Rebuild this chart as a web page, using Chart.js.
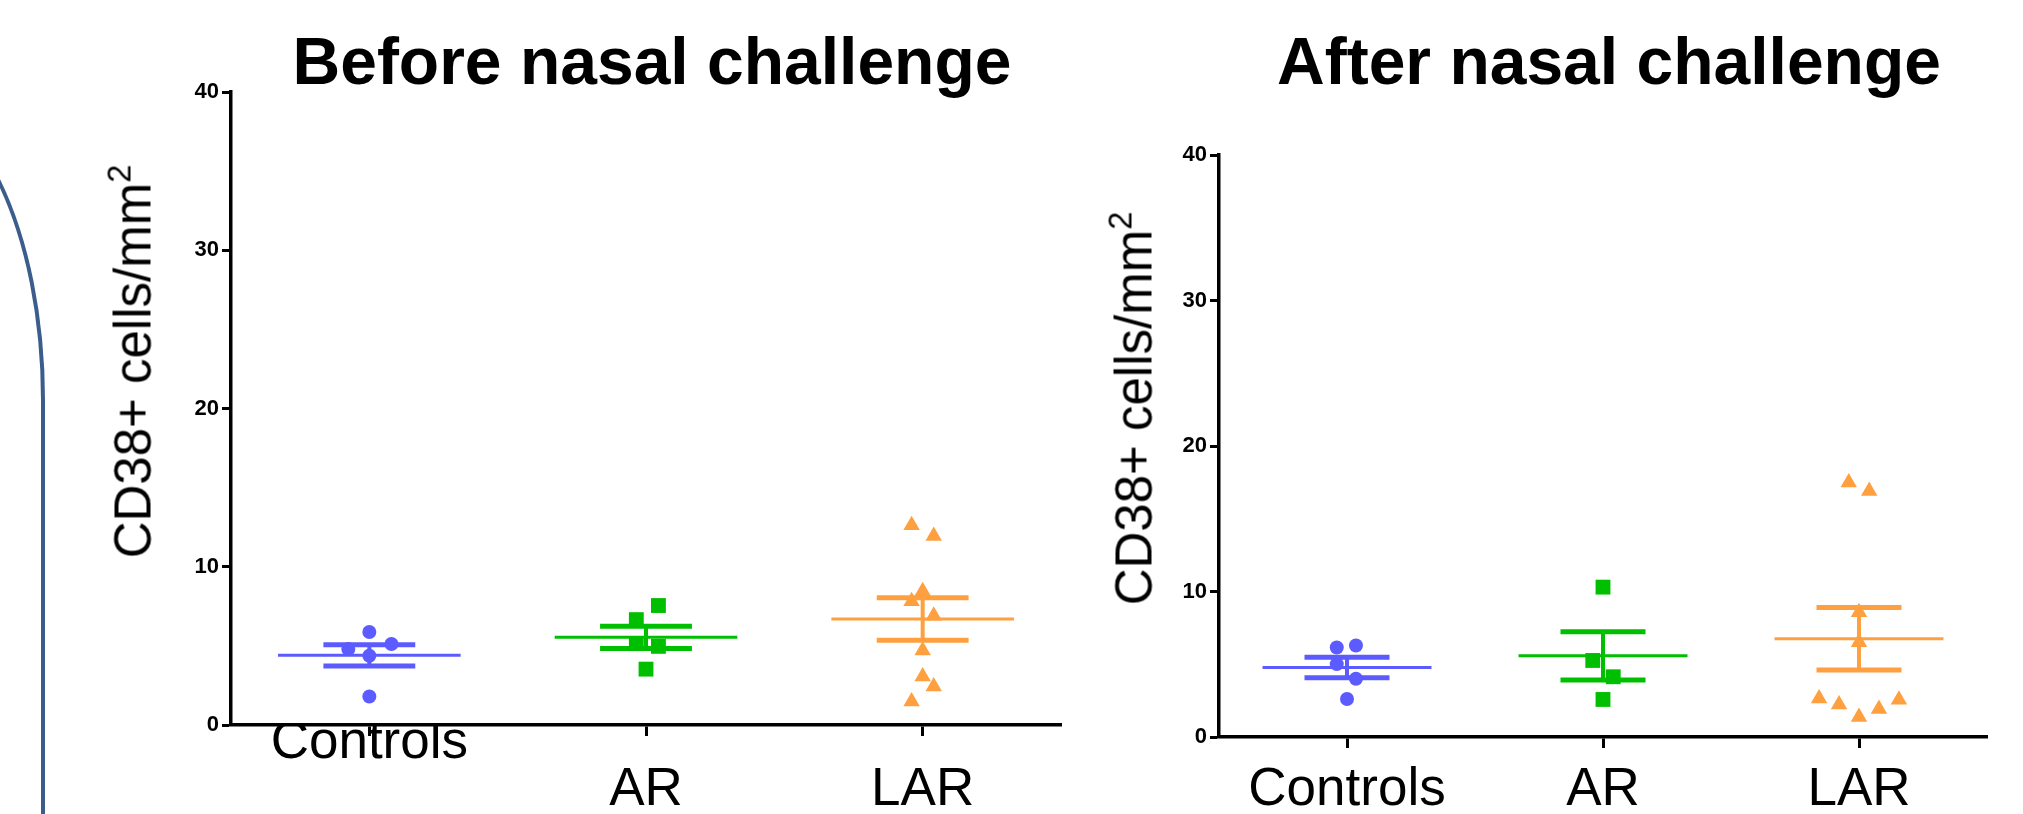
<!DOCTYPE html>
<html>
<head>
<meta charset="utf-8">
<script src="https://cdn.jsdelivr.net/npm/chart.js@4/dist/chart.umd.min.js"></script>
<style>
  html, body { margin: 0; padding: 0; background: #fff; }
  body { width: 2023px; height: 814px; position: relative; overflow: hidden; font-family: Arial, "Liberation Sans", Helvetica, sans-serif; }
  canvas { position: absolute; top: 0; }
  .title { position: absolute; top: 28px; width: 900px; height: 66px; line-height: 66px; font-size: 66px; font-weight: bold; text-align: center; white-space: nowrap; color: #000; }
  .ytitle { position: absolute; width: 500px; height: 51px; line-height: 51px; font-size: 51px; text-align: center; white-space: nowrap; color: #000; transform: rotate(-90deg); }
  .ytitle sup { font-size: 0.64em; line-height: 0; vertical-align: 0.62em; }
  .arc { position: absolute; left: -106px; top: 90px; width: 151px; height: 800px; box-sizing: border-box; border-top: 4.5px solid #3b5d8c; border-right: 4.5px solid #3b5d8c; border-top-right-radius: 151px 310px; }
</style>
</head>
<body>
<div class="arc"></div>
<canvas id="before" width="970" height="814" style="left:110px"></canvas>
<canvas id="after" width="920" height="814" style="left:1100px"></canvas>
<div class="title" style="left:202px">Before nasal challenge</div>
<div class="title" style="left:1159px">After nasal challenge</div>
<div class="ytitle" style="left:-117px; top:336px">CD38+ cells/mm<sup>2</sup></div>
<div class="ytitle" style="left:884px; top:383px">CD38+ cells/mm<sup>2</sup></div>
<script>
// 그룹 / 색 / 마커
const CATEGORIES = ["Controls", "AR", "LAR"]
const COLORS = ["#5b5bff", "#00bf00", "#ffa040"]
const MARKERS = ["circle", "rect", "triangle"]
const Y_MIN = 0
const Y_MAX = 40
const Y_STEP = 10

// Before nasal challenge — 개별 값 (x 는 그룹 안에서의 흩뿌림 오프셋)
const BEFORE_CONTROLS = [5.88, 4.80, 5.12, 4.38, 1.80]
const BEFORE_CONTROLS_X = [0, -0.076, 0.08, 0, 0]
const BEFORE_AR = [7.55, 6.66, 5.14, 4.97, 3.53]
const BEFORE_AR_X = [0.045, -0.035, -0.035, 0.045, 0]
const BEFORE_LAR = [12.62, 11.94, 8.45, 7.82, 6.91, 4.71, 3.06, 2.43, 1.48]
const BEFORE_LAR_X = [-0.04, 0.04, 0, -0.04, 0.04, 0, 0, 0.04, -0.04]
const BEFORE_MEAN = [4.40, 5.54, 6.70]
const BEFORE_SEM = [0.67, 0.70, 1.34]

// After nasal challenge
const AFTER_CONTROLS = [6.15, 6.29, 5.01, 4.00, 2.61]
const AFTER_CONTROLS_X = [-0.04, 0.035, -0.04, 0.035, 0]
const AFTER_AR = [10.30, 5.26, 4.14, 2.58]
const AFTER_AR_X = [0, -0.04, 0.04, 0]
const AFTER_LAR = [17.5, 16.9, 8.58, 6.52, 2.65, 2.24, 1.37, 1.92, 2.56]
const AFTER_LAR_X = [-0.04, 0.04, 0, 0, -0.156, -0.078, 0, 0.078, 0.156]
const AFTER_MEAN = [4.78, 5.58, 6.75]
const AFTER_SEM = [0.70, 1.66, 2.15]

const INK = "#000"
const RADII = { circle: 7, rect: 10.5, triangle: 9.5 }
const FONT = "Arial, 'Liberation Sans', Helvetica, sans-serif"

function seg(x1, y1, x2, y2, color, width) {
  return {
    data: [{ x: x1, y: y1 }, { x: x2, y: y2 }],
    showLine: true,
    borderColor: color,
    borderWidth: width,
    borderCapStyle: "butt",
    pointRadius: 0,
    pointHoverRadius: 0,
  }
}

function datasets(values, offsets, means, sems) {
  const points = values.map((vals, g) => ({
    data: vals.map((v, i) => ({ x: g + offsets[g][i], y: v })),
    pointStyle: MARKERS[g],
    pointRadius: RADII[MARKERS[g]],
    pointHoverRadius: RADII[MARKERS[g]],
    backgroundColor: COLORS[g],
    borderWidth: 0,
  }))
  const lines = []
  means.forEach((m, g) => {
    const c = COLORS[g]
    const s = sems[g]
    lines.push(seg(g - 0.33, m, g + 0.33, m, c, 3))
    lines.push(seg(g - 0.166, m + s, g + 0.166, m + s, c, 5))
    lines.push(seg(g - 0.166, m - s, g + 0.166, m - s, c, 5))
    lines.push(seg(g, m - s, g, m + s, c, 4))
  })
  // 앞쪽 데이터셋이 위에 그려진다 → 점을 먼저
  return [...points, ...lines]
}

function build(id, sets, cfg) {
  return new Chart(document.getElementById(id), {
    type: "scatter",
    data: { datasets: sets },
    options: {
      responsive: false,
      animation: false,
      events: [],
      layout: { padding: { top: cfg.top, right: cfg.right, bottom: 0, left: 0 } },
      plugins: { legend: { display: false }, tooltip: { enabled: false }, title: { display: false } },
      scales: {
        x: {
          type: "linear",
          min: -0.5,
          max: CATEGORIES.length - 0.5,
          afterBuildTicks: (axis) => { axis.ticks = CATEGORIES.map((_, i) => ({ value: i })) },
          afterFit: (axis) => { axis.height = cfg.xHeight },
          grid: { display: true, drawOnChartArea: false, drawTicks: true, tickLength: 11, tickWidth: 3, tickColor: INK },
          border: { display: true, color: INK, width: 3.5 },
          ticks: {
            color: INK,
            autoSkip: false,
            minRotation: 0,
            maxRotation: 0,
            padding: cfg.xPad,
            font: { family: FONT, size: 53, lineHeight: "47px" },
            callback: (v) => {
              const lab = CATEGORIES[Math.round(v)]
              return cfg.stagger && Math.round(v) > 0 ? ["", lab] : lab
            },
          },
        },
        y: {
          min: Y_MIN,
          max: Y_MAX,
          afterFit: (axis) => { axis.width = cfg.yWidth },
          grid: { display: true, drawOnChartArea: false, drawTicks: true, tickLength: 9, tickWidth: 3, tickColor: INK },
          border: { display: true, color: INK, width: 3.5 },
          ticks: { stepSize: Y_STEP, color: INK, padding: 3, font: { family: FONT, size: 22, weight: "bold" } },
        },
      },
    },
  })
}

build(
  "before",
  datasets(
    [BEFORE_CONTROLS, BEFORE_AR, BEFORE_LAR],
    [BEFORE_CONTROLS_X, BEFORE_AR_X, BEFORE_LAR_X],
    BEFORE_MEAN,
    BEFORE_SEM
  ),
  { top: 92, right: 19, xHeight: 89, yWidth: 121, xPad: -16.5, stagger: true }
)

build(
  "after",
  datasets(
    [AFTER_CONTROLS, AFTER_AR, AFTER_LAR],
    [AFTER_CONTROLS_X, AFTER_AR_X, AFTER_LAR_X],
    AFTER_MEAN,
    AFTER_SEM
  ),
  { top: 155, right: 33, xHeight: 77, yWidth: 119, xPad: 18.5, stagger: false }
)
</script>
</body>
</html>
